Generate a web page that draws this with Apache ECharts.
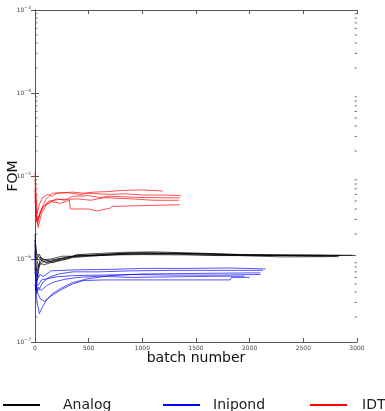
<!DOCTYPE html>
<html><head><meta charset="utf-8">
<script src="https://cdn.jsdelivr.net/npm/echarts@6/dist/echarts.min.js"></script>
<style>html,body{margin:0;padding:0;background:#fff}#c{width:385px;height:411px}</style>
</head><body><div id="c"></div><script>
// Axis ticks
var xTicks = [0, 500, 1000, 1500, 2000, 2500, 3000];
var yDecades = [1e-7, 1e-6, 1e-5, 1e-4, 1e-3];
var seriesNames = ['Analog', 'Inipond', 'IDT'];

// Analog (black) runs: [batch, FOM]
var analog1 = [[0,1.7e-6],[8,1.4e-6],[20,1.0e-6],[40,1.15e-6],[70,9.5e-7],[100,9.0e-7],[150,9.3e-7],[200,9.8e-7],[300,1.05e-6],[400,1.1e-6],[600,1.13e-6],[900,1.18e-6],[1200,1.17e-6],[1600,1.15e-6],[2000,1.12e-6],[2500,1.11e-6],[2990,1.1e-6]];
var analog2 = [[0,1.3e-6],[10,8e-7],[25,6e-7],[45,9e-7],[80,8.5e-7],[120,8.8e-7],[200,9.5e-7],[300,1.0e-6],[380,1.12e-6],[500,1.15e-6],[800,1.2e-6],[1100,1.22e-6],[1500,1.18e-6],[1900,1.13e-6],[2400,1.1e-6],[2800,1.08e-6]];
var analog3 = [[0,9e-7],[12,4e-7],[25,7e-7],[50,1.05e-6],[90,9.8e-7],[150,1.0e-6],[250,1.08e-6],[400,1.08e-6],[600,1.1e-6],[900,1.15e-6],[1300,1.15e-6],[1700,1.1e-6],[2100,1.1e-6],[2500,1.11e-6],[2850,1.1e-6]];
var analog4 = [[0,2e-6],[10,1.2e-6],[30,1.1e-6],[60,9.5e-7],[110,9.2e-7],[180,9.6e-7],[280,1.02e-6],[400,1.12e-6],[550,1.1e-6],[800,1.14e-6],[1100,1.16e-6],[1500,1.16e-6],[1800,1.12e-6],[2200,1.1e-6],[2700,1.09e-6]];
var analog5 = [[0,1.1e-6],[15,7e-7],[35,8.5e-7],[70,1.0e-6],[120,9.6e-7],[200,1.0e-6],[320,1.06e-6],[500,1.1e-6],[750,1.16e-6],[1000,1.19e-6],[1400,1.17e-6],[1800,1.14e-6],[2300,1.12e-6],[2960,1.11e-6]];
var analog6 = [[0,1.5e-6],[10,1.1e-6],[30,8e-7],[60,8.8e-7],[100,9.8e-7],[160,9.0e-7],[250,9.7e-7],[350,1.04e-6],[500,1.08e-6],[700,1.12e-6],[1000,1.13e-6],[1400,1.12e-6],[1900,1.1e-6],[2300,1.06e-6],[2830,1.07e-6]];

// Inipond (blue) runs
var inipond1 = [[0,1.7e-6],[5,8e-7],[20,5.5e-7],[45,6.5e-7],[80,6.2e-7],[150,7.2e-7],[250,7.3e-7],[400,7.4e-7],[700,7.5e-7],[1000,7.7e-7],[1400,7.7e-7],[1800,7.8e-7],[2150,7.6e-7]];
var inipond2 = [[0,1.0e-6],[15,4.5e-7],[35,4.2e-7],[70,5.2e-7],[130,6.0e-7],[220,6.6e-7],[350,7.0e-7],[600,7.0e-7],[900,7.2e-7],[1300,7.3e-7],[1700,7.3e-7],[2125,7.3e-7]];
var inipond3 = [[0,5e-7],[20,3e-7],[40,2.2e-7],[60,2.5e-7],[100,3.1e-7],[160,3.8e-7],[250,4.5e-7],[350,5.2e-7],[500,5.8e-7],[700,6.3e-7],[1000,6.6e-7],[1500,6.7e-7],[2000,6.8e-7],[2100,6.8e-7]];
var inipond4 = [[0,7e-7],[20,4e-7],[50,3.3e-7],[90,3.1e-7],[150,3.6e-7],[250,4.3e-7],[350,5e-7],[450,5.5e-7],[640,5.6e-7],[900,5.6e-7],[1300,5.6e-7],[1820,5.6e-7],[1830,6e-7],[2000,6e-7]];
var inipond5 = [[0,1.2e-6],[10,5e-7],[30,4.8e-7],[60,5.6e-7],[120,5.8e-7],[200,6.1e-7],[350,6.3e-7],[600,6.4e-7],[900,6.5e-7],[1300,6.4e-7],[1700,6.4e-7],[2100,6.5e-7]];
var inipond6 = [[0,8e-7],[15,3.8e-7],[30,4.6e-7],[60,4.2e-7],[110,4.8e-7],[180,5.3e-7],[280,5.7e-7],[400,6.0e-7],[600,6.2e-7],[900,6.0e-7],[1300,6.1e-7],[1700,6.2e-7],[1950,6.2e-7]];

// IDT (red) runs
var idt1 = [[0,1.1e-5],[8,7e-6],[20,3.5e-6],[40,4.5e-6],[70,5.5e-6],[120,6.0e-6],[160,5.7e-6],[200,6.2e-6],[350,6.4e-6],[450,6.2e-6],[550,6.4e-6],[700,6.5e-6],[800,6.7e-6],[1000,6.8e-6],[1190,6.6e-6]];
var idt2 = [[0,9e-6],[10,4e-6],[25,2.6e-6],[50,3.8e-6],[100,5.2e-6],[160,6.2e-6],[300,6.3e-6],[420,6.0e-6],[500,6.2e-6],[700,6.0e-6],[850,6.1e-6],[1000,5.9e-6],[1200,5.9e-6],[1360,5.8e-6]];
var idt3 = [[0,6e-6],[12,3.2e-6],[30,2.4e-6],[60,3.5e-6],[110,4.6e-6],[200,5.3e-6],[280,5.1e-6],[350,5.7e-6],[500,5.8e-6],[600,5.5e-6],[700,5.7e-6],[1000,5.5e-6],[1350,5.45e-6]];
var idt4 = [[0,7e-6],[10,3.5e-6],[30,3.0e-6],[70,4.2e-6],[130,5.0e-6],[220,5.2e-6],[400,5.3e-6],[520,5.1e-6],[650,5.5e-6],[900,5.3e-6],[1100,5.1e-6],[1340,5.1e-6]];
var idt5 = [[0,5e-6],[15,2.8e-6],[35,3.3e-6],[80,4.3e-6],[150,4.9e-6],[240,4.7e-6],[320,5.1e-6],[330,4.0e-6],[500,4.0e-6],[580,3.8e-6],[700,4.1e-6],[720,4.3e-6],[1000,4.4e-6],[1350,4.5e-6]];

var groups = [
  {name: 'Analog', color: '#000000', runs: [analog1, analog2, analog3, analog4, analog5, analog6]},
  {name: 'Inipond', color: '#0000ff', runs: [inipond1, inipond2, inipond3, inipond4, inipond5, inipond6]},
  {name: 'IDT', color: '#ff0000', runs: [idt1, idt2, idt3, idt4, idt5]}
];

// minor log ticks 2..9 x 10^n
var minorTicks = [];
for (var n = -7; n <= -4; n++) for (var k = 2; k <= 9; k++) minorTicks.push([0, k * Math.pow(10, n)]);

function logLabel(v) {
  var e = Math.round(Math.log10(v));
  return '{b|10}{s|' + String(e).replace('-', '\u2212') + '}';
}

var xMin = xTicks[0], xMax = xTicks[xTicks.length - 1];
var series = [];
groups.forEach(function (g) {
  g.runs.forEach(function (r) {
    series.push({
      type: 'line', name: g.name, data: r, showSymbol: false, symbol: 'none',
      itemStyle: {color: g.color},
      lineStyle: {color: g.color, width: 0.8, opacity: 0.85},
      silent: true, z: 3
    });
  });
});
series.push({
  type: 'custom', coordinateSystem: 'cartesian2d', data: minorTicks, silent: true, z: 4,
  renderItem: function (params, api) {
    var v = api.value(1);
    var pl = api.coord([xMin, v]);
    var pr = api.coord([xMax, v]);
    return {type: 'group', children: [
      {type: 'line', shape: {x1: pl[0], y1: pl[1], x2: pl[0] + 2.5, y2: pl[1]}, style: {stroke: '#555', lineWidth: 0.8}},
      {type: 'line', shape: {x1: pr[0], y1: pr[1], x2: pr[0] - 2.5, y2: pr[1]}, style: {stroke: '#555', lineWidth: 0.8}}
    ]};
  }
});

var labelRich = {
  b: {fontSize: 6, color: '#444', fontFamily: 'DejaVu Sans'},
  s: {fontSize: 4.5, color: '#444', fontFamily: 'DejaVu Sans', verticalAlign: 'bottom', padding: [0, 0, 5, 0]}
};

function legendItem(name, left, gap) {
  return {
    data: [name], left: left, top: 393, orient: 'horizontal',
    icon: 'rect', itemWidth: 37, itemHeight: 2,
    selectedMode: false,
    textStyle: {fontSize: 14, color: '#222', fontFamily: 'DejaVu Sans', padding: [0, 0, 0, gap]}
  };
}

var chart = echarts.init(document.getElementById('c'), null, {renderer: 'canvas'});
chart.setOption({
  animation: false,
  backgroundColor: '#fff',
  grid: {left: 35, right: 28, top: 10, bottom: 69, containLabel: false, outerBoundsMode: 'none'},
  legend: [legendItem('Analog', -2, 18), legendItem('Inipond', 158, 8), legendItem('IDT', 305, 10)],
  xAxis: [{
    type: 'value', min: xMin, max: xMax, interval: 500,
    name: 'batch number', nameLocation: 'middle', nameGap: 9, nameMoveOverlap: false,
    nameTextStyle: {fontSize: 14, color: '#111', fontFamily: 'DejaVu Sans'},
    axisLine: {show: true, lineStyle: {color: '#555', width: 1}},
    axisTick: {show: true, inside: true, length: 4, lineStyle: {color: '#555'}},
    axisLabel: {fontSize: 6, color: '#444', margin: 3, fontFamily: 'DejaVu Sans', formatter: function (v) { return String(v); }},
    splitLine: {show: false}
  }, {
    type: 'value', position: 'top', min: xMin, max: xMax, interval: 500,
    axisLine: {show: true, lineStyle: {color: '#555', width: 1}},
    axisTick: {show: true, inside: true, length: 4, lineStyle: {color: '#555'}},
    axisLabel: {show: false}, splitLine: {show: false}
  }],
  yAxis: [{
    type: 'log', logBase: 10, min: yDecades[0], max: yDecades[yDecades.length - 1],
    name: 'FOM', nameLocation: 'middle', nameGap: 15, nameMoveOverlap: false,
    nameTextStyle: {fontSize: 14, color: '#111', fontFamily: 'DejaVu Sans'},
    axisLine: {show: true, lineStyle: {color: '#555', width: 1}},
    axisTick: {show: true, inside: true, length: 4, lineStyle: {color: '#555'}},
    axisLabel: {formatter: logLabel, rich: labelRich, margin: 4},
    splitLine: {show: false}
  }, {
    type: 'log', logBase: 10, position: 'right', min: yDecades[0], max: yDecades[yDecades.length - 1],
    axisLine: {show: true, lineStyle: {color: '#555', width: 1}},
    axisTick: {show: true, inside: true, length: 4, lineStyle: {color: '#555'}},
    axisLabel: {show: false}, splitLine: {show: false}
  }],
  series: series
});
</script></body></html>
